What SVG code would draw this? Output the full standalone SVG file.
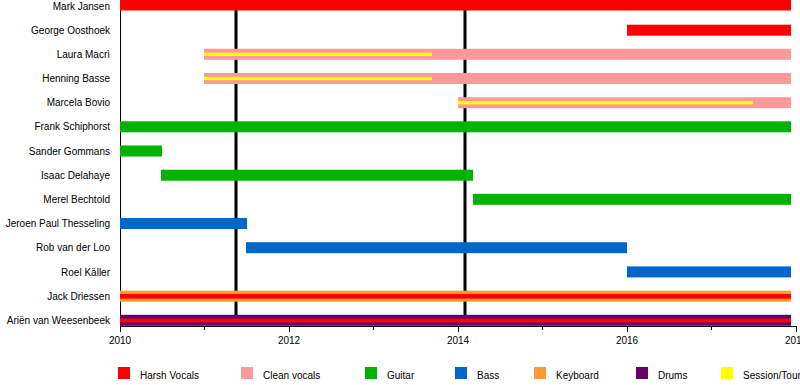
<svg xmlns="http://www.w3.org/2000/svg" width="800" height="385" viewBox="0 0 800 385">
<style>
text{font-family:"Liberation Sans",Arial,sans-serif;font-size:10px;fill:#000}
.lbl{text-anchor:end}
.yr{text-anchor:middle}
.harsh{fill:#FF0000}
.clean{fill:#FF9999}
.guitar{fill:#00B300}
.bass{fill:#0066CC}
.keys{fill:#FF9933}
.drums{fill:#660066}
.session{fill:#FFFF00}
.axis{stroke:#000;stroke-width:1;fill:none}
.event{stroke:#000;stroke-width:3}
</style>
<rect width="800" height="385" fill="#fff"/>
<g id="events">
<line class="event" x1="236" y1="0" x2="236" y2="315"/>
<line class="event" x1="465" y1="0" x2="465" y2="315"/>
</g>
<g id="axis">
<line class="axis" x1="120.5" y1="0" x2="120.5" y2="326.5"/>
<line class="axis" x1="120" y1="326.5" x2="797" y2="326.5"/>
<path class="axis" d="M120.5 326v6M204.5 326v4M289.5 326v6M373.5 326v4M458.5 326v6M542.5 326v4M627.5 326v6M711.5 326v4M796.5 326v6"/>
<text class="yr" x="120" y="344">2010</text>
<text class="yr" x="289" y="344">2012</text>
<text class="yr" x="458" y="344">2014</text>
<text class="yr" x="627" y="344">2016</text>
<text class="yr" x="796" y="344">2018</text>
</g>
<g id="mark-jansen"><rect class="harsh" x="120" y="0" width="671" height="10.5"/><text class="lbl" x="110" y="9.6">Mark Jansen</text></g>
<g id="george-oosthoek"><rect class="harsh" x="627" y="24.7" width="164" height="11"/><text class="lbl" x="110" y="33.8">George Oosthoek</text></g>
<g id="laura-macri"><rect class="clean" x="204" y="48.8" width="587" height="11"/><rect class="session" x="204" y="52.6" width="228" height="3.4"/><text class="lbl" x="110" y="58">Laura Macrì</text></g>
<g id="henning-basse"><rect class="clean" x="204" y="73" width="587" height="11"/><rect class="session" x="204" y="76.8" width="228" height="3.4"/><text class="lbl" x="110" y="82.1">Henning Basse</text></g>
<g id="marcela-bovio"><rect class="clean" x="458" y="97.2" width="333" height="11"/><rect class="session" x="458" y="101" width="295" height="3.4"/><text class="lbl" x="110" y="106.3">Marcela Bovio</text></g>
<g id="frank-schiphorst"><rect class="guitar" x="120" y="121.3" width="671" height="11"/><text class="lbl" x="110" y="130.4">Frank Schiphorst</text></g>
<g id="sander-gommans"><rect class="guitar" x="120" y="145.5" width="42" height="11"/><text class="lbl" x="110" y="154.6">Sander Gommans</text></g>
<g id="isaac-delahaye"><rect class="guitar" x="161" y="169.7" width="312" height="11"/><text class="lbl" x="110" y="178.8">Isaac Delahaye</text></g>
<g id="merel-bechtold"><rect class="guitar" x="473" y="193.8" width="318" height="11"/><text class="lbl" x="110" y="202.9">Merel Bechtold</text></g>
<g id="jeroen-paul-thesseling"><rect class="bass" x="120" y="218" width="127" height="11"/><text class="lbl" x="110" y="227.1">Jeroen Paul Thesseling</text></g>
<g id="rob-van-der-loo"><rect class="bass" x="246" y="242.2" width="381" height="11"/><text class="lbl" x="110" y="251.3">Rob van der Loo</text></g>
<g id="roel-kaller"><rect class="bass" x="627" y="266.4" width="164" height="11"/><text class="lbl" x="110" y="275.5">Roel Käller</text></g>
<g id="jack-driessen"><rect class="keys" x="120" y="290.7" width="671" height="11"/><rect class="harsh" x="120" y="294" width="671" height="4.6"/><text class="lbl" x="110" y="299.8">Jack Driessen</text></g>
<g id="arien-van-weesenbeek"><rect class="drums" x="120" y="314.8" width="671" height="11"/><rect class="harsh" x="120" y="318.6" width="671" height="3.8"/><text class="lbl" x="110" y="324">Ariën van Weesenbeek</text></g>
<g id="legend">
<rect class="harsh" x="118" y="367" width="12" height="12"/><text x="140" y="378.5">Harsh Vocals</text>
<rect class="clean" x="241" y="367" width="12" height="12"/><text x="263" y="378.5">Clean vocals</text>
<rect class="guitar" x="365" y="367" width="12" height="12"/><text x="387" y="378.5">Guitar</text>
<rect class="bass" x="455" y="367" width="12" height="12"/><text x="477" y="378.5">Bass</text>
<rect class="keys" x="534" y="367" width="12" height="12"/><text x="556" y="378.5">Keyboard</text>
<rect class="drums" x="636" y="367" width="12" height="12"/><text x="658" y="378.5">Drums</text>
<rect class="session" x="721" y="367" width="12" height="12"/><text x="743" y="378.5">Session/Touring</text>
</g>
</svg>
